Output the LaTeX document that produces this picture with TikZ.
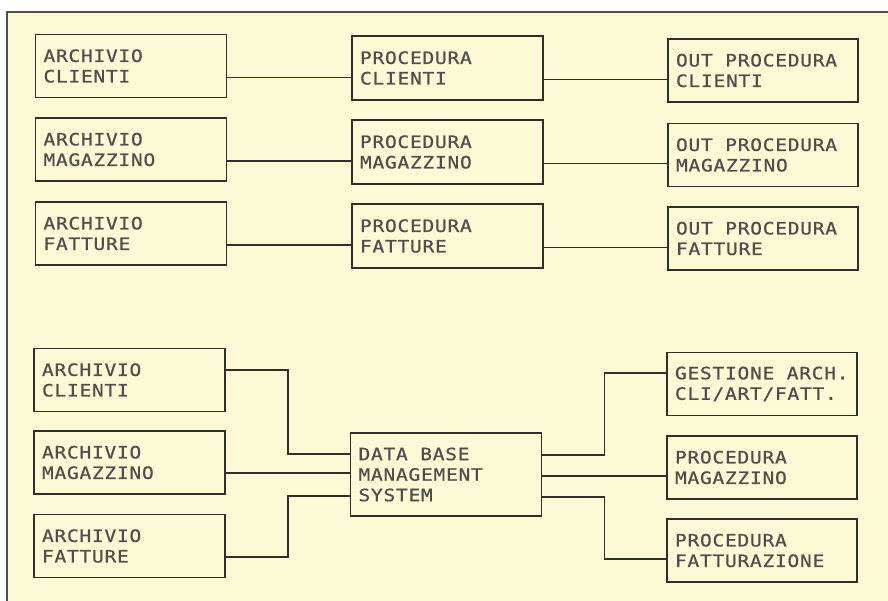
\documentclass[tikz,border=0pt]{standalone}
\usepackage{fontspec}
\usetikzlibrary{calc}
\newfontfamily\plotfont[FakeStretch=1.15,LetterSpace=4.3,FakeBold=0.8]{DejaVu Sans Mono}
\newcommand\gap{\kern12.5pt\relax}
\definecolor{paper}{RGB}{251,249,214}
\definecolor{ink}{RGB}{48,48,40}
\begin{document}
\begin{tikzpicture}[x=1pt,y=-1pt,
  box/.style={draw=ink, line width=1.6pt, text=ink!85, minimum height=63pt,
    text width=175pt, inner xsep=8pt, inner ysep=0pt, align=left,
    font=\plotfont\fontsize{17}{20.5}\selectfont},
  link/.style={draw=ink, line width=1.5pt}]
\useasboundingbox (0,0) rectangle (888,601);
\fill[white] (0,0) rectangle (888,601);
\fill[paper] (7,12) rectangle (888,601);
\draw[ink!85, line width=2pt] (7,601) -- (7,12) -- (888,12);
% top section
\node[box] (A1) at (131,66)    {ARCHIVIO\\CLIENTI};
\node[box] (A2) at (131,149.5) {ARCHIVIO\\MAGAZZINO};
\node[box] (A3) at (131,233.5) {ARCHIVIO\\FATTURE};
\node[box, minimum height=64pt] (P1) at (447.5,68)  {PROCEDURA\\CLIENTI};
\node[box, minimum height=64pt] (P2) at (447.5,152) {PROCEDURA\\MAGAZZINO};
\node[box, minimum height=64pt] (P3) at (447.5,236) {PROCEDURA\\FATTURE};
\node[box, text width=174pt] (O1) at (763,70.5)  {OUT\gap PROCEDURA\\CLIENTI};
\node[box, text width=174pt] (O2) at (763,155)   {OUT\gap PROCEDURA\\MAGAZZINO};
\node[box, text width=174pt] (O3) at (763,238.5) {OUT\gap PROCEDURA\\FATTURE};
\foreach \a/\b in {A1/P1,A2/P2,A3/P3}
  \draw[link] ([yshift=-11.5pt]\a.east) -- ([yshift=-11.5pt]\a.east -| \b.west);
\foreach \a/\b in {P1/O1,P2/O2,P3/O3}
  \draw[link] ([yshift=-11.5pt]\a.east) -- ([yshift=-11.5pt]\a.east -| \b.west);
% bottom section
\node[box] (L1) at (129.5,380)   {ARCHIVIO\\CLIENTI};
\node[box] (L2) at (129.5,462.5) {ARCHIVIO\\MAGAZZINO};
\node[box] (L3) at (129.5,546)   {ARCHIVIO\\FATTURE};
\node[box, minimum height=83pt] (D) at (446,474.5) {DATA\gap BASE\\MANAGEMENT\\SYSTEM};
\node[box, text width=174pt] (R1) at (762,384)   {GESTIONE\gap ARCH.\\CLI/ART/FATT.};
\node[box, text width=174pt] (R2) at (762,467.5) {PROCEDURA\\MAGAZZINO};
\node[box, text width=174pt] (R3) at (762,550.5) {PROCEDURA\\FATTURAZIONE};
\draw[link] ([yshift=10pt]L1.east) -| ($(L1.east)!.5!(D.west)$) |- ([yshift=20.5pt]D.west);
\draw[link] ([yshift=-10.5pt]L2.east) -- ([yshift=-10.5pt]L2.east -| D.west);
\draw[link] ([yshift=-11pt]L3.east) -| ($(L3.east)!.5!(D.west)$) |- ([yshift=-21.5pt]D.west);
\draw[link] ([yshift=19.5pt]D.east) -| ($(D.east)!.5!(R1.west)$) |- ([yshift=11pt]R1.west);
\draw[link] ([yshift=-1.5pt]D.east) -- ([yshift=-1.5pt]D.east -| R2.west);
\draw[link] ([yshift=-22.5pt]D.east) -| ($(D.east)!.5!(R3.west)$) |- ([yshift=-8.5pt]R3.west);
\end{tikzpicture}
\end{document}
